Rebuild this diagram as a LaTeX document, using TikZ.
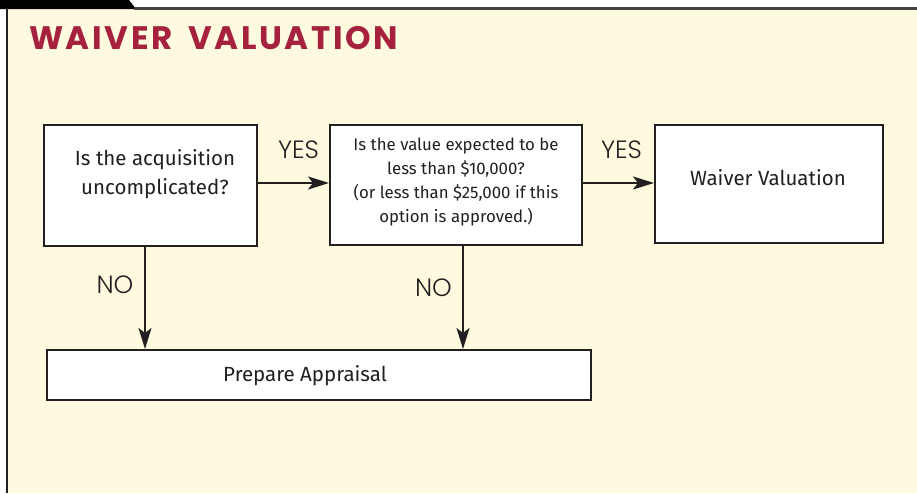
\documentclass[tikz,border=0pt]{standalone}
\usepackage{fontspec}
\setmainfont{Fira Sans}
\newfontfamily\titlefont[LetterSpace=8]{Poppins Bold}
\newfontfamily\labelfont{Poppins Light}
\usetikzlibrary{arrows.meta}
\definecolor{panel}{HTML}{FEFADF}
\definecolor{titlered}{HTML}{A6213E}
\definecolor{ink}{HTML}{231F20}
\tikzset{
  box/.style={draw=ink, line width=2pt, fill=white, minimum width=#1, inner sep=0pt},
  boxtext/.style={text=ink, font=\fontsize{20.5}{29}\selectfont, align=center, inner sep=0pt},
  smalltext/.style={text=ink, font=\fontsize{16.8}{24}\selectfont, align=center, inner sep=0pt},
  yesno/.style={text=ink, font=\labelfont\fontsize{25}{25}\selectfont, inner sep=0pt},
  conn/.style={draw=ink, line width=2.2pt, -{Stealth[length=21pt,width=13pt,inset=5pt]}},
}
\begin{document}
\begin{tikzpicture}[x=1pt,y=-1pt]
\useasboundingbox (0,0) rectangle (917,493);
\fill[white] (0,0) rectangle (917,493);
\fill[panel] (8,9) rectangle (917,493);
\fill[black] (0,0) -- (129,0) -- (136,9) -- (0,9) -- cycle;
\draw[ink!85, line width=2.5pt] (134,8.5) -- (917,8.5);
\draw[ink, line width=2.5pt] (7.2,8) -- (7.2,493);
\node[anchor=base west, text=titlered, font=\titlefont\fontsize{32.5}{33}\selectfont, inner sep=0pt] (title) at (29,49.5) {WAIVER\hspace{16pt}VALUATION};
% boxes
\node[box=213pt, minimum height=121pt] (q1) at (150.5,185.5) {};
\node[box=252pt, minimum height=120pt] (q2) at (456,185) {};
\node[box=228pt, minimum height=118pt] (wv) at (769,184) {};
\node[box=544pt, minimum height=50pt] (pa) at (319,375) {};
% texts
\node[boxtext] (q1t) at (155,174) {Is the acquisition\\uncomplicated?};
\node[smalltext] (q2t) at (456,182) {Is the value expected to be\\less than \$10,000?\\(or less than \$25,000 if this\\option is approved.)};
\node[boxtext] (wvt) at (768,178) {Waiver Valuation};
\node[boxtext] (pat) at (305,376) {Prepare Appraisal};
% connectors
\coordinate (a1s) at (257,183);
\coordinate (a2s) at (582,183);
\draw[conn] (a1s) -- (a1s -| q2.west);
\draw[conn] (a2s) -- (a2s -| wv.west);
\coordinate (d1s) at (145,246);
\coordinate (d2s) at (463,245);
\draw[conn] (d1s) -- (d1s |- pa.north);
\draw[conn] (d2s) -- (d2s |- pa.north);
% labels
\node[yesno] (y1) at (298.5,150) {YES};
\node[yesno] (y2) at (621.5,150) {YES};
\node[yesno] (n1) at (115,285) {NO};
\node[yesno] (n2) at (433.5,288) {NO};
\end{tikzpicture}
\end{document}
